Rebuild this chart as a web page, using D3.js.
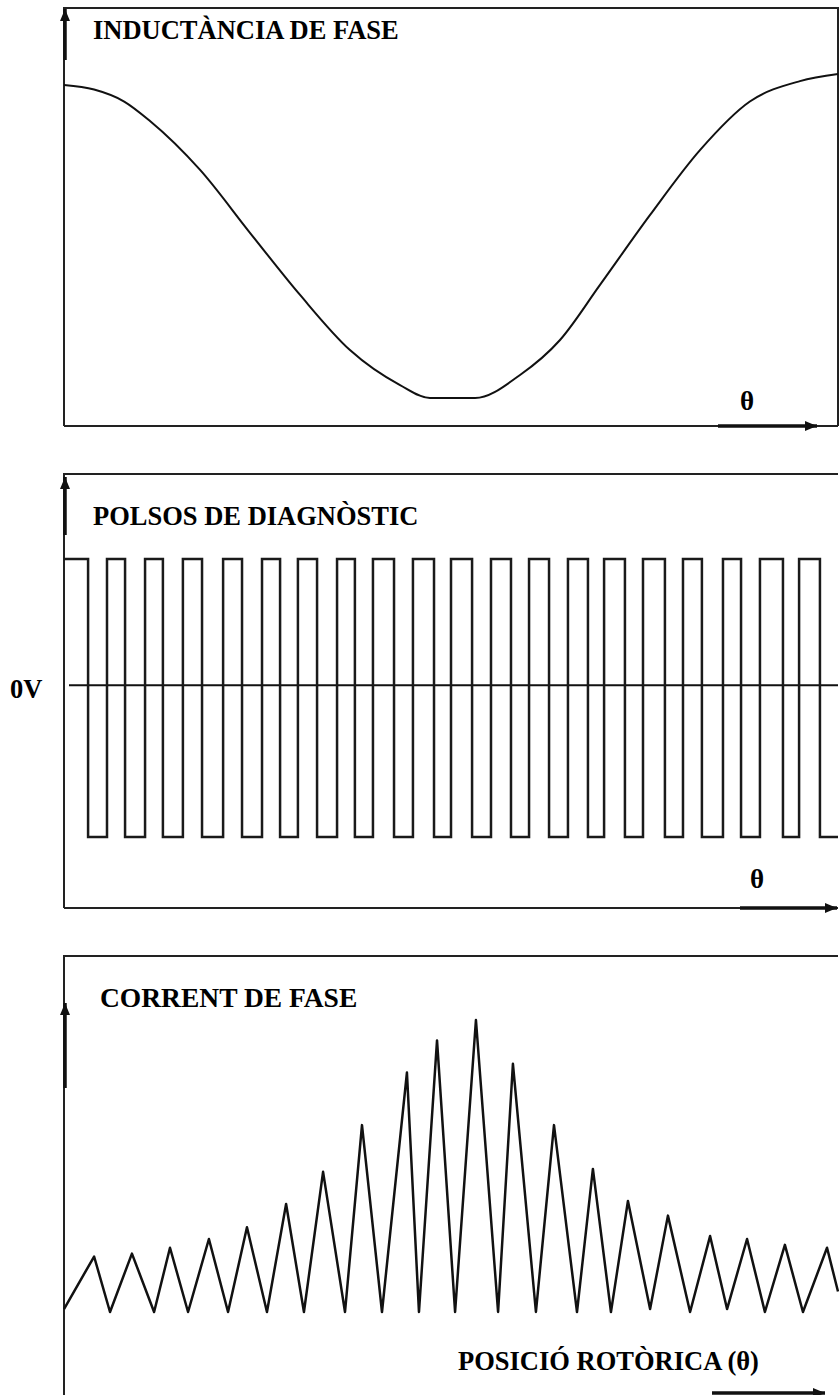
<!DOCTYPE html>
<html>
<head>
<meta charset="utf-8">
<script src="https://cdn.jsdelivr.net/npm/d3@7"></script>
<style>
  body { margin: 0; background: #fff; }
  svg { display: block; }
  text { font-family: "Liberation Serif", "Times New Roman", serif; font-weight: bold; fill: #000; }
</style>
</head>
<body>
<svg id="chart" width="839" height="1395"></svg>
<script>
// rotor position in electrical degrees, one full period across the frame
const inductanceTheta = [0, 14, 28, 40, 63.3, 86.5, 109.8, 133, 156.3, 170.2, 191.2, 212.1, 230.7, 249.3, 272.6, 295.8, 319, 342.3, 360];
const inductanceValue = [0.966, 0.952, 0.915, 0.855, 0.704, 0.51, 0.318, 0.148, 0.04, 0, 0, 0.071, 0.179, 0.349, 0.565, 0.765, 0.915, 0.978, 1];

// diagnostic pulses: intervals where the pulse is high
const pulseOn = [
  [0, 11.2], [20, 28.4], [37.7, 46], [55.3, 64.2], [74, 82.8],
  [92.1, 100.5], [108.8, 117.7], [127, 135.3], [143.7, 153.5], [162.3, 172.1],
  [180, 189.8], [198.6, 207.9], [216.3, 225.6], [234.4, 243.7], [251.2, 260.9],
  [269.3, 279.5], [287.9, 296.7], [306.5, 314.9], [323.7, 334.4], [341.9, 351.6]
];
const pulseHigh = 1;
const pulseLow = -1.2;

// phase current, peaks and valleys
const currentTheta = [0, 14, 21.4, 31.6, 41.9, 49.3, 57.7, 67.4, 76.3, 85.1, 94.4, 103.3, 111.6, 120.5, 130.7,
  138.6, 147.9, 159.5, 165.1, 173.5, 181.9, 191.6, 201.9, 208.8, 219.5, 227.9, 238.6, 246, 254.4,
  262.3, 272.6, 280.9, 291.2, 300.5, 308.4, 317.7, 326, 335.3, 343.7, 354.9, 360];
const currentAmps = [0.01, 0.19, 0, 0.2, 0, 0.22, 0, 0.25, 0, 0.29, 0, 0.37, 0, 0.48, 0,
  0.64, 0, 0.82, 0, 0.93, 0, 1.0, 0, 0.85, 0, 0.64, 0, 0.49, 0,
  0.38, 0.01, 0.33, 0, 0.26, 0.01, 0.25, 0, 0.23, 0, 0.22, 0.07];

const titles = ['INDUCTÀNCIA DE FASE', 'POLSOS DE DIAGNÒSTIC', 'CORRENT DE FASE'];

const svg = d3.select('#chart');
const ink = '#111';

const defs = svg.append('defs');
defs.append('marker')
  .attr('id', 'head')
  .attr('viewBox', '0 0 12 10')
  .attr('refX', 12)
  .attr('refY', 5)
  .attr('markerUnits', 'userSpaceOnUse')
  .attr('markerWidth', 13)
  .attr('markerHeight', 10)
  .attr('orient', 'auto')
  .append('path')
  .attr('d', 'M0,0L12,5L0,10z')
  .attr('fill', ink);

const x = d3.scaleLinear().domain([0, 360]).range([64, 838]);

const frames = [
  {top: 8, bottom: 426, right: true, upTo: 9, upFrom: 60, arrowX0: 718, arrowX1: 817},
  {top: 474, bottom: 908, right: false, upTo: 477, upFrom: 535, arrowX0: 740, arrowX1: 837},
  {top: 956, bottom: 1395, right: false, upTo: 1003, upFrom: 1088, arrowX0: 712, arrowX1: 825, arrowY: 1393}
];

frames.forEach((f, i) => {
  const g = svg.append('g');
  // frame
  g.append('path')
    .attr('d', 'M' + x(0) + ',' + f.bottom + 'V' + f.top + 'H' + x(360) + (f.right ? 'V' + f.bottom : ''))
    .attr('fill', 'none')
    .attr('stroke', '#222')
    .attr('stroke-width', 2);
  if (i < 2) {
    g.append('line')
      .attr('x1', x(0)).attr('x2', x(360))
      .attr('y1', f.bottom).attr('y2', f.bottom)
      .attr('stroke', '#222')
      .attr('stroke-width', 2);
  }
  // vertical axis arrow
  g.append('line')
    .attr('x1', x(0) + 1).attr('x2', x(0) + 1)
    .attr('y1', f.upFrom).attr('y2', f.upTo)
    .attr('stroke', ink)
    .attr('stroke-width', 3.5)
    .attr('marker-end', 'url(#head)');
  // theta arrow
  const ay = f.arrowY || f.bottom;
  g.append('line')
    .attr('x1', f.arrowX0).attr('x2', f.arrowX1)
    .attr('y1', ay).attr('y2', ay)
    .attr('stroke', ink)
    .attr('stroke-width', 3.5)
    .attr('marker-end', 'url(#head)');
});

// titles
svg.append('text').attr('x', 93).attr('y', 39).attr('font-size', 26.5).text(titles[0]);
svg.append('text').attr('x', 93).attr('y', 525).attr('font-size', 26.5).text(titles[1]);
svg.append('text').attr('x', 100).attr('y', 1007).attr('font-size', 27.5).text(titles[2]);
svg.append('text').attr('x', 747).attr('y', 410).attr('font-size', 27).attr('text-anchor', 'middle').text('θ');
svg.append('text').attr('x', 757).attr('y', 888).attr('font-size', 27).attr('text-anchor', 'middle').text('θ');
svg.append('text').attr('x', 458).attr('y', 1370).attr('font-size', 26.5).text('POSICIÓ ROTÒRICA (θ)');
svg.append('text').attr('x', 10).attr('y', 698).attr('font-size', 26.5).text('0V');

// phase inductance
const yL = d3.scaleLinear().domain([0, 1]).range([398, 74]);
const lineL = d3.line()
  .x(d => x(d[0]))
  .y(d => yL(d[1]))
  .curve(d3.curveMonotoneX);
svg.append('path')
  .datum(d3.zip(inductanceTheta, inductanceValue))
  .attr('fill', 'none')
  .attr('stroke', ink)
  .attr('stroke-width', 2)
  .attr('d', lineL);

// diagnostic pulses
const yV = d3.scaleLinear().domain([pulseLow, pulseHigh]).range([837, 559]);
svg.append('line')
  .attr('x1', x(0) + 5).attr('x2', x(360))
  .attr('y1', yV(0)).attr('y2', yV(0))
  .attr('stroke', ink)
  .attr('stroke-width', 2);

const pulsePts = [];
pulseOn.forEach(p => {
  pulsePts.push([p[0], pulseLow], [p[0], pulseHigh], [p[1], pulseHigh], [p[1], pulseLow]);
});
pulsePts.shift();
pulsePts.unshift([0, pulseHigh]);
pulsePts.push([360, pulseLow]);
svg.append('path')
  .datum(pulsePts)
  .attr('fill', 'none')
  .attr('stroke', '#1a1a1a')
  .attr('stroke-width', 2.5)
  .attr('d', d3.line().x(d => x(d[0])).y(d => yV(d[1])));

// phase current
const yI = d3.scaleLinear().domain([0, 1]).range([1312, 1020]);
svg.append('path')
  .datum(d3.zip(currentTheta, currentAmps))
  .attr('fill', 'none')
  .attr('stroke', ink)
  .attr('stroke-width', 2.5)
  .attr('stroke-linejoin', 'round')
  .attr('d', d3.line().x(d => x(d[0])).y(d => yI(d[1])));
</script>
</body>
</html>
